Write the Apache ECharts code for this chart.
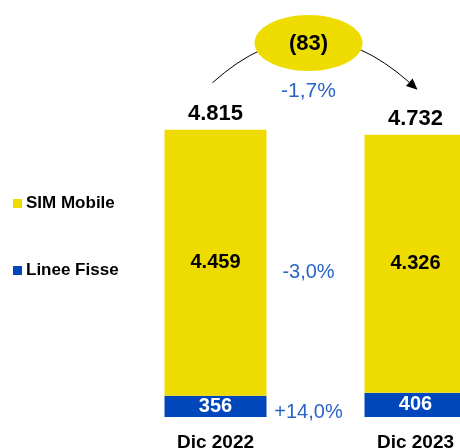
<!DOCTYPE html>
<html>
<head>
<meta charset="utf-8">
<script src="https://cdn.jsdelivr.net/npm/echarts@6/dist/echarts.min.js"></script>
<style>
  html, body { margin: 0; padding: 0; background: #fff; }
  #chart { width: 460px; height: 448px; }
</style>
</head>
<body>
<div id="chart"></div>
<script>
// Linee attive per tipologia
const categories = ['Dic 2022', 'Dic 2023'];
const lineeFisse = [356, 406];
const simMobile = [4459, 4326];
const totali = [4815, 4732];

const YELLOW = '#EEDC00';
const BLUE = '#0047BB';
const TXT_BLUE = '#2A64C8';
const FONT = 'Liberation Sans, Arial, sans-serif';

function fmtNum(v) {
  return String(v).replace(/\B(?=(\d{3})+(?!\d))/g, '.');
}
function fmtPct(a, b) {
  const p = (b - a) / a * 100;
  return (p > 0 ? '+' : '') + p.toFixed(1).replace('.', ',') + '%';
}

const chart = echarts.init(document.getElementById('chart'));

const option = {
  animation: false,
  grid: { left: 215.5, right: 44.5, top: 59, bottom: 31, outerBoundsMode: 'none', containLabel: false },
  legend: {
    orient: 'vertical',
    left: 13,
    top: 195,
    padding: 0,
    itemGap: 50,
    itemWidth: 9,
    itemHeight: 9,
    icon: 'rect',
    textStyle: { fontFamily: FONT, fontWeight: 'bold', fontSize: 17, color: '#000', padding: [0, 0, 0, -1] },
    data: ['SIM Mobile', 'Linee Fisse']
  },
  xAxis: {
    type: 'category',
    data: categories,
    boundaryGap: false,
    axisLine: { show: false },
    axisTick: { show: false },
    axisLabel: { margin: 16, fontFamily: FONT, fontWeight: 'bold', fontSize: 19, color: '#000' }
  },
  yAxis: {
    type: 'value',
    min: 0,
    max: 6000,
    show: false,
    splitLine: { show: false }
  },
  series: [
    {
      name: 'Linee Fisse',
      type: 'bar',
      stack: 'tot',
      barWidth: 102,
      clip: false,
      data: lineeFisse,
      itemStyle: { color: BLUE },
      label: {
        show: true, position: 'inside', formatter: p => fmtNum(p.value),
        fontFamily: FONT, fontWeight: 'bold', fontSize: 20, color: '#fff'
      }
    },
    {
      name: 'SIM Mobile',
      type: 'bar',
      stack: 'tot',
      barWidth: 102,
      clip: false,
      data: simMobile,
      itemStyle: { color: YELLOW },
      label: {
        show: true, position: 'inside', formatter: p => fmtNum(p.value),
        fontFamily: FONT, fontWeight: 'bold', fontSize: 20, color: '#000'
      }
    },
    {
      name: 'Totale',
      type: 'scatter',
      data: totali,
      symbolSize: 0,
      clip: false,
      silent: true,
      itemStyle: { opacity: 1 },
      label: {
        show: true, position: 'top', distance: 5, formatter: p => fmtNum(p.value),
        fontFamily: FONT, fontWeight: 'bold', fontSize: 22, color: '#000', opacity: 1
      }
    }
  ]
};

chart.setOption(option);

// Annotations between the two bars: total delta bubble, arc arrow and % changes
const pL = chart.convertToPixel({ seriesIndex: 0 }, [0, totali[0]]);
const pR = chart.convertToPixel({ seriesIndex: 0 }, [1, totali[1]]);
const yMobL = chart.convertToPixel({ seriesIndex: 0 }, [0, lineeFisse[0] + simMobile[0] / 2])[1];
const yFisL = chart.convertToPixel({ seriesIndex: 0 }, [0, lineeFisse[0] / 2])[1];
const cx = (pL[0] + pR[0]) / 2 - 7;

const x1 = pL[0] - 3, y1 = pL[1] - 47;
const x2 = pR[0] + 2, y2 = pR[1] - 45;
const cpx = cx + 2, cpy = Math.min(y1, y2) - 88;

// arrow head along the curve tangent at its end
const dx = x2 - cpx, dy = y2 - cpy;
const len = Math.sqrt(dx * dx + dy * dy);
const ux = dx / len, uy = dy / len;
const ah = 11, aw = 5;
const bx = x2 - ux * ah, by = y2 - uy * ah;
const arrow = [[x2, y2], [bx - uy * aw, by + ux * aw], [bx + uy * aw, by - ux * aw]];

const delta = totali[1] - totali[0];

chart.setOption({
  graphic: [
    {
      type: 'bezierCurve',
      shape: { x1: x1, y1: y1, x2: bx, y2: by, cpx1: cpx, cpy1: cpy },
      style: { stroke: '#000', lineWidth: 1, fill: null },
      z: 10
    },
    {
      type: 'polygon',
      shape: { points: arrow },
      style: { fill: '#000' },
      z: 10
    },
    {
      type: 'ellipse',
      shape: { cx: cx, cy: 43, rx: 54, ry: 28 },
      style: { fill: YELLOW },
      z: 11
    },
    {
      type: 'text',
      x: cx, y: 44,
      style: {
        text: delta < 0 ? '(' + Math.abs(delta) + ')' : String(delta),
        fontFamily: FONT, fontWeight: 'bold', fontSize: 22, fill: '#000',
        align: 'center', verticalAlign: 'middle'
      },
      z: 12
    },
    {
      type: 'text',
      x: cx, y: 91,
      style: {
        text: fmtPct(totali[0], totali[1]),
        fontFamily: FONT, fontSize: 21, fill: TXT_BLUE, align: 'center', verticalAlign: 'middle'
      },
      z: 12
    },
    {
      type: 'text',
      x: cx, y: yMobL + 10,
      style: {
        text: fmtPct(simMobile[0], simMobile[1]),
        fontFamily: FONT, fontSize: 20, fill: TXT_BLUE, align: 'center', verticalAlign: 'middle'
      },
      z: 12
    },
    {
      type: 'text',
      x: cx, y: yFisL + 6,
      style: {
        text: fmtPct(lineeFisse[0], lineeFisse[1]),
        fontFamily: FONT, fontSize: 20, fill: TXT_BLUE, align: 'center', verticalAlign: 'middle'
      },
      z: 12
    }
  ]
});
</script>
</body>
</html>
